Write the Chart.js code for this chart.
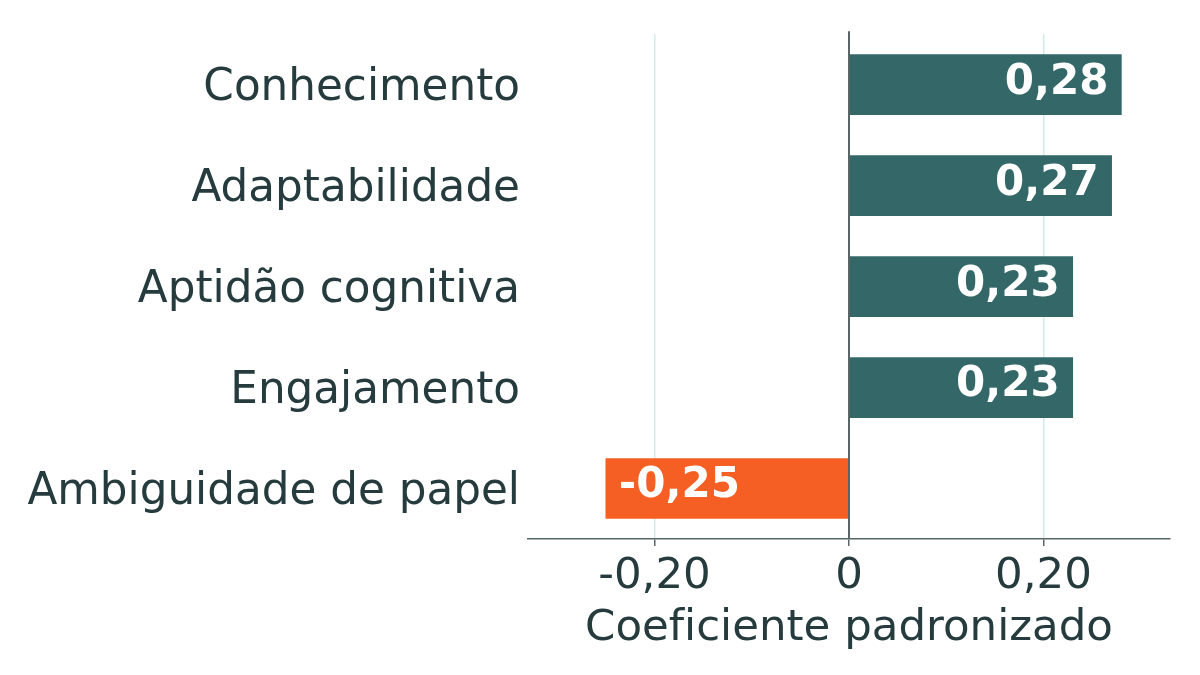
<!DOCTYPE html>
<html>
<head>
<meta charset="utf-8">
<script src="https://cdn.jsdelivr.net/npm/chart.js@4"></script>
<style>
  html, body { margin: 0; padding: 0; background: #fff; }
  #wrap { width: 1200px; height: 675px; }
</style>
</head>
<body>
<div id="wrap"><canvas id="myChart" width="1200" height="675"></canvas></div>
<script>
'use strict';
const labels = ['Conhecimento', 'Adaptabilidade', 'Aptidão cognitiva', 'Engajamento', 'Ambiguidade de papel'];
const values = [0.28, 0.27, 0.23, 0.23, -0.25];
const tickValues = [-0.2, 0, 0.2];
// zero-width non-joiner keeps "f" and "i" apart (no ligature)
const axisTitle = 'Coef\u200Ciciente padronizado';

const teal = '#346767';
const orange = '#f55f24';
const textColor = '#263b3d';
const axisColor = '#5a6666';
const gridColor = '#d3eaea';
const font = 'DejaVu Sans';

function fmt(v) {
  if (v === 0) return '0';
  return v.toFixed(2).replace('.', ',');
}

// value labels inside bar ends + zero line on top
const barLabels = {
  id: 'barLabels',
  afterDatasetsDraw(chart) {
    const ctx = chart.ctx;
    const area = chart.chartArea;
    const x0 = chart.scales.x.getPixelForValue(0);
    ctx.save();
    ctx.strokeStyle = axisColor;
    ctx.lineWidth = 2;
    ctx.beginPath();
    ctx.moveTo(x0, area.top - 3);
    ctx.lineTo(x0, area.bottom);
    ctx.stroke();

    ctx.font = 'bold 42px "' + font + '"';
    ctx.fillStyle = '#ffffff';
    ctx.textBaseline = 'middle';
    const meta = chart.getDatasetMeta(0);
    meta.data.forEach((bar, i) => {
      const v = values[i];
      if (v >= 0) {
        ctx.textAlign = 'right';
        ctx.fillText(fmt(v), bar.x - 13, bar.y - 2);
      } else {
        ctx.textAlign = 'left';
        ctx.fillText(fmt(v), bar.x + 13, bar.y - 2);
      }
    });
    ctx.restore();
  }
};

const ctx = document.getElementById('myChart').getContext('2d');
new Chart(ctx, {
  type: 'bar',
  data: {
    labels: labels,
    datasets: [{
      data: values,
      backgroundColor: values.map(v => v < 0 ? orange : teal),
      borderWidth: 0,
      barThickness: 60
    }]
  },
  options: {
    indexAxis: 'y',
    responsive: false,
    animation: false,
    devicePixelRatio: 1,
    layout: { padding: { top: 33, right: 30, left: 0, bottom: 0 } },
    plugins: {
      legend: { display: false },
      tooltip: { enabled: false }
    },
    scales: {
      x: {
        min: -0.33,
        max: 0.33,
        afterBuildTicks(scale) {
          scale.ticks = tickValues.map(v => ({ value: v }));
        },
        afterFit(scale) {
          scale.height = 136;
        },
        grid: {
          color: c => c.tick && c.tick.value === 0 ? axisColor : gridColor,
          lineWidth: 1.5,
          drawTicks: true,
          tickLength: 7,
          tickColor: axisColor,
          tickWidth: 1.5
        },
        border: { display: true, color: axisColor, width: 1.5 },
        ticks: {
          color: textColor,
          font: { family: font, size: 43.5 },
          padding: 5,
          callback: v => fmt(v)
        },
        title: {
          display: true,
          text: axisTitle,
          color: textColor,
          font: { family: font, size: 43.5 },
          padding: { top: 0, bottom: 20 }
        }
      },
      y: {
        afterFit(scale) {
          scale.width = 528;
        },
        grid: { display: false, drawTicks: false },
        border: { display: false },
        ticks: {
          color: textColor,
          font: { family: font, size: 43.7 },
          padding: 8,
          labelOffset: 4
        }
      }
    }
  },
  plugins: [barLabels]
});
</script>
</body>
</html>
